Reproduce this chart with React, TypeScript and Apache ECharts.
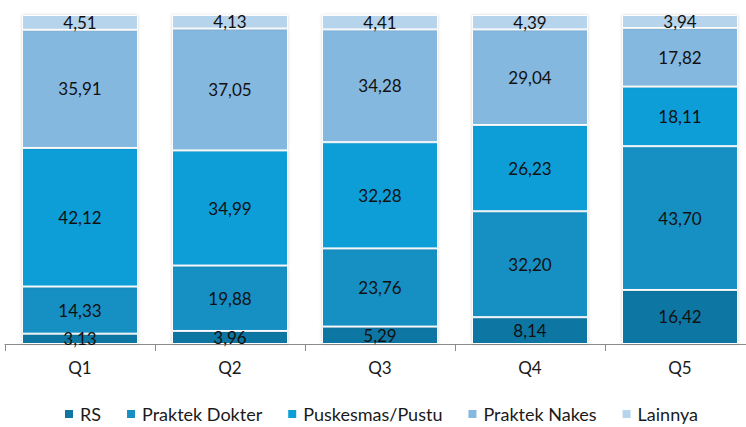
import React, { useEffect, useRef } from "react";
import * as echarts from "echarts";

const categories = ["Q1", "Q2", "Q3", "Q4", "Q5"];
const seriesNames = ["RS", "Praktek Dokter", "Puskesmas/Pustu", "Praktek Nakes", "Lainnya"];
const rs = [3.13, 3.96, 5.29, 8.14, 16.42];
const praktekDokter = [14.33, 19.88, 23.76, 32.2, 43.7];
const puskesmas = [42.12, 34.99, 32.28, 26.23, 18.11];
const praktekNakes = [35.91, 37.05, 34.28, 29.04, 17.82];
const lainnya = [4.51, 4.13, 4.41, 4.39, 3.94];
const colors = ["#0F76A3", "#168FC3", "#0A9ED8", "#85B8DF", "#B6D4EC"];

const FONT = "Lato, 'Open Sans', sans-serif";

export default function App() {
  const ref = useRef<HTMLDivElement>(null);
  useEffect(() => {
    document.body.style.margin = "0";
    const chart = echarts.init(ref.current!, undefined, { renderer: "svg" });
    const dataSets = [rs, praktekDokter, puskesmas, praktekNakes, lainnya];
    chart.setOption({
      animation: false,
      color: colors,
      textStyle: { fontFamily: FONT },
      grid: { left: 5, right: 5, top: 15, bottom: 83, containLabel: false },
      legend: {
        data: seriesNames,
        left: 63,
        top: 405,
        padding: 0,
        icon: "rect",
        itemWidth: 10,
        itemHeight: 10,
        itemGap: 24,
        textStyle: { fontSize: 18, color: "#1a1a1a", fontFamily: FONT, padding: [0, 0, 0, 1] },
      },
      xAxis: {
        type: "category",
        data: categories,
        axisLine: { lineStyle: { color: "#8c8c8c", width: 1 } },
        axisTick: { show: true, length: 7, lineStyle: { color: "#8c8c8c" } },
        axisLabel: { fontSize: 17, color: "#1a1a1a", margin: 15, fontFamily: FONT },
      },
      yAxis: {
        type: "value",
        min: 0,
        max: 100,
        show: false,
        splitLine: { show: false },
      },
      series: seriesNames.map((name, i) => ({
        name,
        type: "bar",
        stack: "total",
        barWidth: 116,
        data: dataSets[i],
        itemStyle: {
          color: colors[i],
          borderColor: "#ffffff",
          borderWidth: 1,
          shadowColor: "rgba(0,0,0,0.18)",
          shadowBlur: 3,
        },
        label: {
          show: true,
          position: "inside",
          fontSize: 17,
          color: "#111",
          fontFamily: FONT,
          formatter: (p: any) => Number(p.value).toFixed(2).replace(".", ","),
        },
      })),
    });
    return () => chart.dispose();
  }, []);
  return (
    <div style={{ width: 746, height: 427, overflow: "hidden", position: "relative" }}>
      <div ref={ref} style={{ width: 760, height: 427 }} />
    </div>
  );
}
